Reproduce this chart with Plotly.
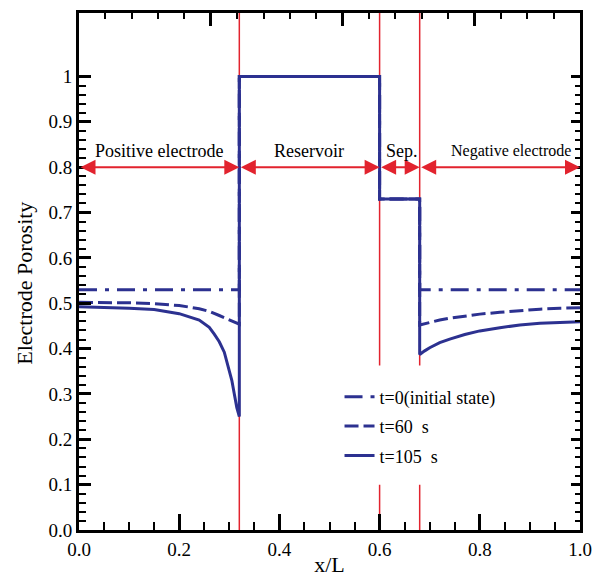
import plotly.graph_objects as go

# ---------------- data ----------------
boundaries = [0.32, 0.6, 0.68]          # region borders (x/L)
reservoir_level = 1.0
separator_level = 0.73
arrow_level = 0.8

region_labels = ["Positive electrode", "Reservoir", "Sep.", "Negative electrode"]
region_label_x = [0.16, 0.46, 0.645, 0.862]
region_spans = [(0.0, 0.32), (0.32, 0.6), (0.6, 0.68), (0.68, 1.0)]

# t = 0 (initial state)
x_pos_t0 = [0.0, 0.32]
y_pos_t0 = [0.53, 0.53]
x_neg_t0 = [0.68, 1.0]
y_neg_t0 = [0.53, 0.53]

# t = 60 s
x_pos_t60 = [0.0, 0.05, 0.10, 0.15, 0.20, 0.24, 0.26, 0.28, 0.30, 0.32]
y_pos_t60 = [0.502, 0.502, 0.501, 0.499, 0.495, 0.488, 0.482, 0.473, 0.463, 0.454]
x_neg_t60 = [0.68, 0.69, 0.70, 0.72, 0.74, 0.77, 0.80, 0.84, 0.88, 0.92, 0.96, 1.0]
y_neg_t60 = [0.452, 0.455, 0.458, 0.463, 0.467, 0.472, 0.476, 0.480, 0.484, 0.487, 0.489, 0.490]

# t = 105 s
x_pos_t105 = [0.0, 0.05, 0.10, 0.15, 0.20, 0.24, 0.26, 0.27, 0.28, 0.29, 0.295, 0.30,
              0.305, 0.31, 0.315, 0.32]
y_pos_t105 = [0.492, 0.491, 0.489, 0.486, 0.477, 0.463, 0.447, 0.432, 0.415, 0.392, 0.37,
              0.352, 0.33, 0.30, 0.27, 0.25]
x_neg_t105 = [0.68, 0.69, 0.70, 0.72, 0.74, 0.77, 0.80, 0.84, 0.88, 0.92, 0.96, 1.0]
y_neg_t105 = [0.387, 0.395, 0.402, 0.413, 0.421, 0.431, 0.439, 0.446, 0.452, 0.456, 0.458, 0.459]

series_names = ["t=0(initial state)", "t=60  s", "t=105  s"]

# tick labels
x_tickvals = [0.0, 0.2, 0.4, 0.6, 0.8, 1.0]
x_ticktext = ["0.0", "0.2", "0.4", "0.6", "0.8", "1.0"]
y_tickvals = [0.0, 0.1, 0.2, 0.3, 0.4, 0.5, 0.6, 0.7, 0.8, 0.9, 1.0]
y_ticktext = ["0.0", "0.1", "0.2", "0.3", "0.4", "0.5", "0.6", "0.7", "0.8", "0.9", "1"]


def full_series(xp, yp, xn, yn):
    x = list(xp) + [boundaries[0], boundaries[1], boundaries[1], boundaries[2]] + list(xn)
    y = list(yp) + [reservoir_level, reservoir_level, separator_level, separator_level] + list(yn)
    return x, y


BLUE = "#2c3190"
RED = "#e2232e"
FONT = "Liberation Serif"
XR = [0, 1]
YR = [0, 1.14]

fig = go.Figure()
dashes = ["18px,8px,4px,8px", "14px,5px", "solid"]
data_sets = [
    (x_pos_t0, y_pos_t0, x_neg_t0, y_neg_t0),
    (x_pos_t60, y_pos_t60, x_neg_t60, y_neg_t60),
    (x_pos_t105, y_pos_t105, x_neg_t105, y_neg_t105),
]
for i, (name, ds, dash) in enumerate(zip(series_names, data_sets, dashes)):
    x, y = full_series(*ds)
    fig.add_trace(go.Scatter(
        x=x, y=y, mode="lines", name=name, legendgroup=f"g{i}",
        line=dict(color=BLUE, width=3, dash=dash),
    ))

# empty traces that activate the overlay tick axes
for xa, ya in [("x2", "y"), ("x3", "y"), ("x", "y2"), ("x", "y3"), ("x", "y4")]:
    fig.add_trace(go.Scatter(x=[None], y=[None], xaxis=xa, yaxis=ya,
                             showlegend=False, hoverinfo="skip", mode="lines"))

shapes = []
for b in boundaries:
    shapes.append(dict(type="line", xref="x", yref="paper", x0=b, x1=b, y0=0, y1=1,
                       line=dict(color=RED, width=1.5), layer="below"))
# white legend background covering the boundary lines
shapes.append(dict(type="rect", xref="x", yref="y", x0=0.55, x1=0.75, y0=0.1, y1=0.363,
                   fillcolor="white", line=dict(width=0), layer="below"))

annotations = []
for (a, b) in region_spans:
    annotations.append(dict(x=b, y=arrow_level, ax=a, ay=arrow_level, xref="x", yref="y",
                            axref="x", ayref="y", text="", showarrow=True,
                            arrowhead=2, startarrowhead=2, arrowside="end+start",
                            arrowsize=1.5, startarrowsize=1.5, arrowwidth=2, arrowcolor=RED,
                            standoff=0, startstandoff=0))
for lab, lx in zip(region_labels, region_label_x):
    annotations.append(dict(x=lx, y=0.835, xref="x", yref="y", text=lab, showarrow=False,
                            font=dict(family=FONT, size=16 if lab.startswith("Neg") else 18,
                                      color="black")))
# y-axis title (placed slightly below the plot centre, as in the original)
annotations.append(dict(x=-0.108, y=0.478, xref="paper", yref="paper",
                        text="Electrode Porosity", textangle=-90, showarrow=False,
                        xanchor="center", yanchor="middle",
                        font=dict(family=FONT, size=22, color="black")))

minor_top = [k / 19 for k in range(1, 19) if k % 5 != 0]
major_top = [k / 19 for k in (5, 10, 15)]
minor_y = [round(0.02 * k, 2) for k in range(0, 51) if k % 5 != 0]


def tick_axis(side, vals, length, width, overlay):
    return dict(range=XR if overlay == "x" else YR, overlaying=overlay, side=side,
                tickmode="array", tickvals=vals, showticklabels=False,
                ticks="inside", ticklen=length, tickwidth=width, tickcolor="black",
                showline=False, showgrid=False, zeroline=False)


fig.update_layout(
    width=596, height=569, autosize=False,
    margin=dict(l=71, r=24, t=2, b=46),
    paper_bgcolor="white", plot_bgcolor="white",
    font=dict(family=FONT, size=18, color="black"),
    shapes=shapes, annotations=annotations,
    showlegend=True,
    legend=dict(x=0.52, y=0.293, xanchor="left", yanchor="top",
                bgcolor="rgba(0,0,0,0)", borderwidth=0,
                font=dict(family=FONT, size=18, color="black"),
                tracegroupgap=3, traceorder="grouped"),
    xaxis=dict(range=XR, tickvals=x_tickvals, ticktext=x_ticktext,
               ticks="inside", ticklen=16, tickwidth=3, tickcolor="black",
               showline=True, linewidth=3, linecolor="black", mirror=True,
               showgrid=False, zeroline=False,
               tickfont=dict(family=FONT, size=19),
               minor=dict(ticks="inside", dtick=0.05, tick0=0, ticklen=8, tickwidth=2,
                          tickcolor="black", showgrid=False),
               title=dict(text="x/L", font=dict(family=FONT, size=22), standoff=0)),
    xaxis2=tick_axis("top", major_top, 13, 3, "x"),
    xaxis3=tick_axis("top", minor_top, 6, 2, "x"),
    yaxis=dict(range=YR, tickvals=y_tickvals, ticktext=y_ticktext,
               ticks="inside", ticklen=12, tickwidth=3, tickcolor="black",
               showline=True, linewidth=3, linecolor="black", mirror=True,
               showgrid=False, zeroline=False,
               tickfont=dict(family=FONT, size=19)),
    yaxis2=tick_axis("left", minor_y, 7, 2, "y"),
    yaxis3=tick_axis("right", y_tickvals, 9, 3, "y"),
    yaxis4=tick_axis("right", minor_y, 5, 2, "y"),
)

fig.write_html("out.html")
